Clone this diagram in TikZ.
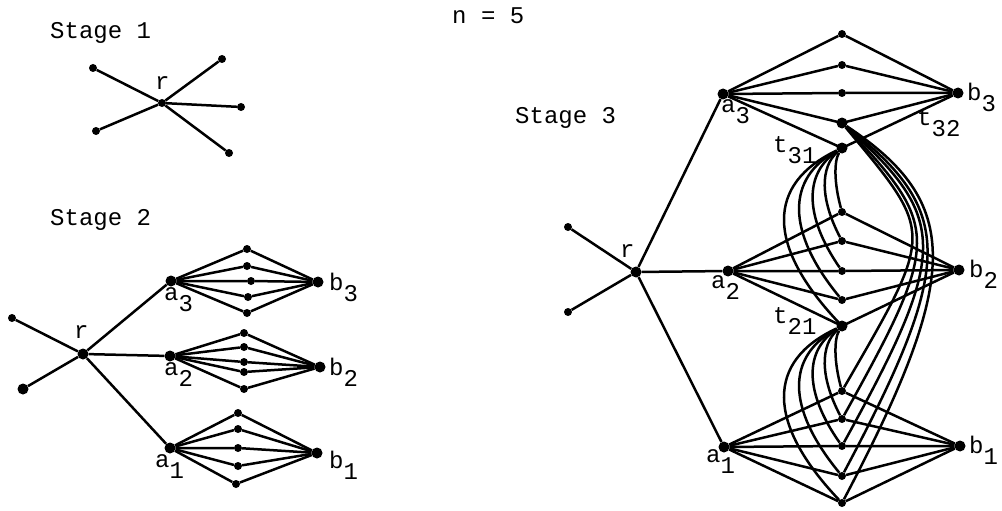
\documentclass[tikz,border=0pt]{standalone}
\usepackage{fontspec}
\setmainfont{Liberation Mono}
\newcommand\tsub[2]{#1\raisebox{-11pt}{#2}}
\begin{document}
\begin{tikzpicture}[x=1pt,y=-1pt,
  dot/.style={circle,fill,inner sep=0pt,minimum size=8pt},
  big/.style={circle,fill,inner sep=0pt,minimum size=11pt},
  edge/.style={line width=2.5pt},
  lab/.style={inner sep=0pt,anchor=base west,font=\fontsize{24}{28}\selectfont}]
\useasboundingbox (0,0) rectangle (1002,511);

% titles
\node[lab] (title1) at (50,39) {Stage 1};
\node[lab] (title2) at (50,225) {Stage 2};
\node[lab] (title3) at (515,124) {Stage 3};
\node[lab] (nval) at (452,24) {n = 5};

% ---------- Stage 1 ----------
\node[dot] (r1) at (162,103) {};
\foreach \x/\y [count=\i] in {93/68, 222/59, 241/107, 229/153, 96/131}{
  \node[dot] (s1l\i) at (\x,\y) {};
  \draw[edge] (r1) -- (s1l\i);
}
\node[lab] (l1r) at (155,90) {r};

% ---------- Stage 2 ----------
\node[big] (r2) at (83,354) {};
\node[dot] (r2l1) at (12,318) {};
\node[big] (r2l2) at (23,389) {};
\draw[edge] (r2) -- (r2l1) (r2) -- (r2l2);
\node[big] (s2a3) at (171,281) {};
\node[big] (s2b3) at (318,282) {};
\node[big] (s2a2) at (170,356) {};
\node[big] (s2b2) at (320,367) {};
\node[big] (s2a1) at (170,448) {};
\node[big] (s2b1) at (317,453) {};
\draw[edge] (r2) -- (s2a3) (r2) -- (s2a2) (r2) -- (s2a1);
\foreach \x/\y [count=\i] in {247/249, 247/266, 251/281, 248/297, 247/313}{
  \node[dot] (s2c\i) at (\x,\y) {};
  \draw[edge] (s2a3) -- (s2c\i) -- (s2b3);
}
\foreach \x/\y [count=\i] in {244/333, 244/347, 244/362, 244/372, 244/389}{
  \node[dot] (s2m\i) at (\x,\y) {};
  \draw[edge] (s2a2) -- (s2m\i) -- (s2b2);
}
\foreach \x/\y [count=\i] in {238/413, 238/429, 238/448, 238/466, 236/484}{
  \node[dot] (s2n\i) at (\x,\y) {};
  \draw[edge] (s2a1) -- (s2n\i) -- (s2b1);
}
\node[lab] (l2r) at (74,338) {r};
\node[lab] (l2a3) at (164,300) {\tsub{a}{3}};
\node[lab] (l2b3) at (329,290) {\tsub{b}{3}};
\node[lab] (l2a2) at (164,375) {\tsub{a}{2}};
\node[lab] (l2b2) at (329,375) {\tsub{b}{2}};
\node[lab] (l2a1) at (155,467) {\tsub{a}{1}};
\node[lab] (l2b1) at (329,468) {\tsub{b}{1}};

% ---------- Stage 3 ----------
\node[big] (r3) at (636,272) {};
\node[dot] (r3l1) at (568,227) {};
\node[dot] (r3l2) at (568,312) {};
\draw[edge] (r3) -- (r3l1) (r3) -- (r3l2);
\node[big] (a3) at (723,94) {};
\node[big] (b3) at (958,93) {};
\node[big] (a2) at (728,271) {};
\node[big] (b2) at (959,270) {};
\node[big] (a1) at (724,447) {};
\node[big] (b1) at (960,446) {};
\draw[edge] (r3) -- (a3) (r3) -- (a2) (r3) -- (a1);

\foreach \y [count=\i] in {34,65,93,123,148}{
  \node[dot] (m3\i) at (842,\y) {};
  \draw[edge] (a3) -- (m3\i) -- (b3);
}
\foreach \y [count=\i] in {212,241,271,300,326}{
  \node[dot] (m2\i) at (842,\y) {};
  \draw[edge] (a2) -- (m2\i) -- (b2);
}
\foreach \y [count=\i] in {391,419,446,476,503}{
  \node[dot] (m1\i) at (842,\y) {};
  \draw[edge] (a1) -- (m1\i) -- (b1);
}
% t nodes slightly larger
\node[big] (t32) at (842,123) {};
\node[big] (t31) at (842,148) {};
\node[big] (t21) at (842,326) {};

% curves t31 -> diamond 2
\foreach \D/\ha/\hb [count=\i] in {8/13/29, 22/19/42, 38/25/55, 56/30/68, 76/36/80}{
  \draw[edge] (t31) .. controls +(-\D,\ha) and +(-\D,-\hb) .. (m2\i);
}
% curves t21 -> diamond 1
\foreach \D/\ha/\hb [count=\i] in {8/13/29, 22/19/42, 38/24/54, 56/30/68, 76/35/80}{
  \draw[edge] (t21) .. controls +(-\D,\ha) and +(-\D,-\hb) .. (m1\i);
}
% curves t32 -> diamond 1
\foreach \D/\ha/\hb [count=\i] in {93/112/161, 99/104/178, 107/96/194, 113/88/212, 120/80/228}{
  \draw[edge] (t32) .. controls +(\D,\ha) and +(\D,-\hb) .. (m1\i);
}

\node[lab] (l3r) at (620,257) {r};
\node[lab] (l3a3) at (721,112) {\tsub{a}{3}};
\node[lab] (l3b3) at (967,100) {\tsub{b}{3}};
\node[lab] (l3t31) at (773,152) {\tsub{t}{31}};
\node[lab] (l3t32) at (917,125) {\tsub{t}{32}};
\node[lab] (l3a2) at (711,288) {\tsub{a}{2}};
\node[lab] (l3b2) at (969,277) {\tsub{b}{2}};
\node[lab] (l3t21) at (773,323) {\tsub{t}{21}};
\node[lab] (l3a1) at (706,462) {\tsub{a}{1}};
\node[lab] (l3b1) at (969,453) {\tsub{b}{1}};
\end{tikzpicture}
\end{document}
